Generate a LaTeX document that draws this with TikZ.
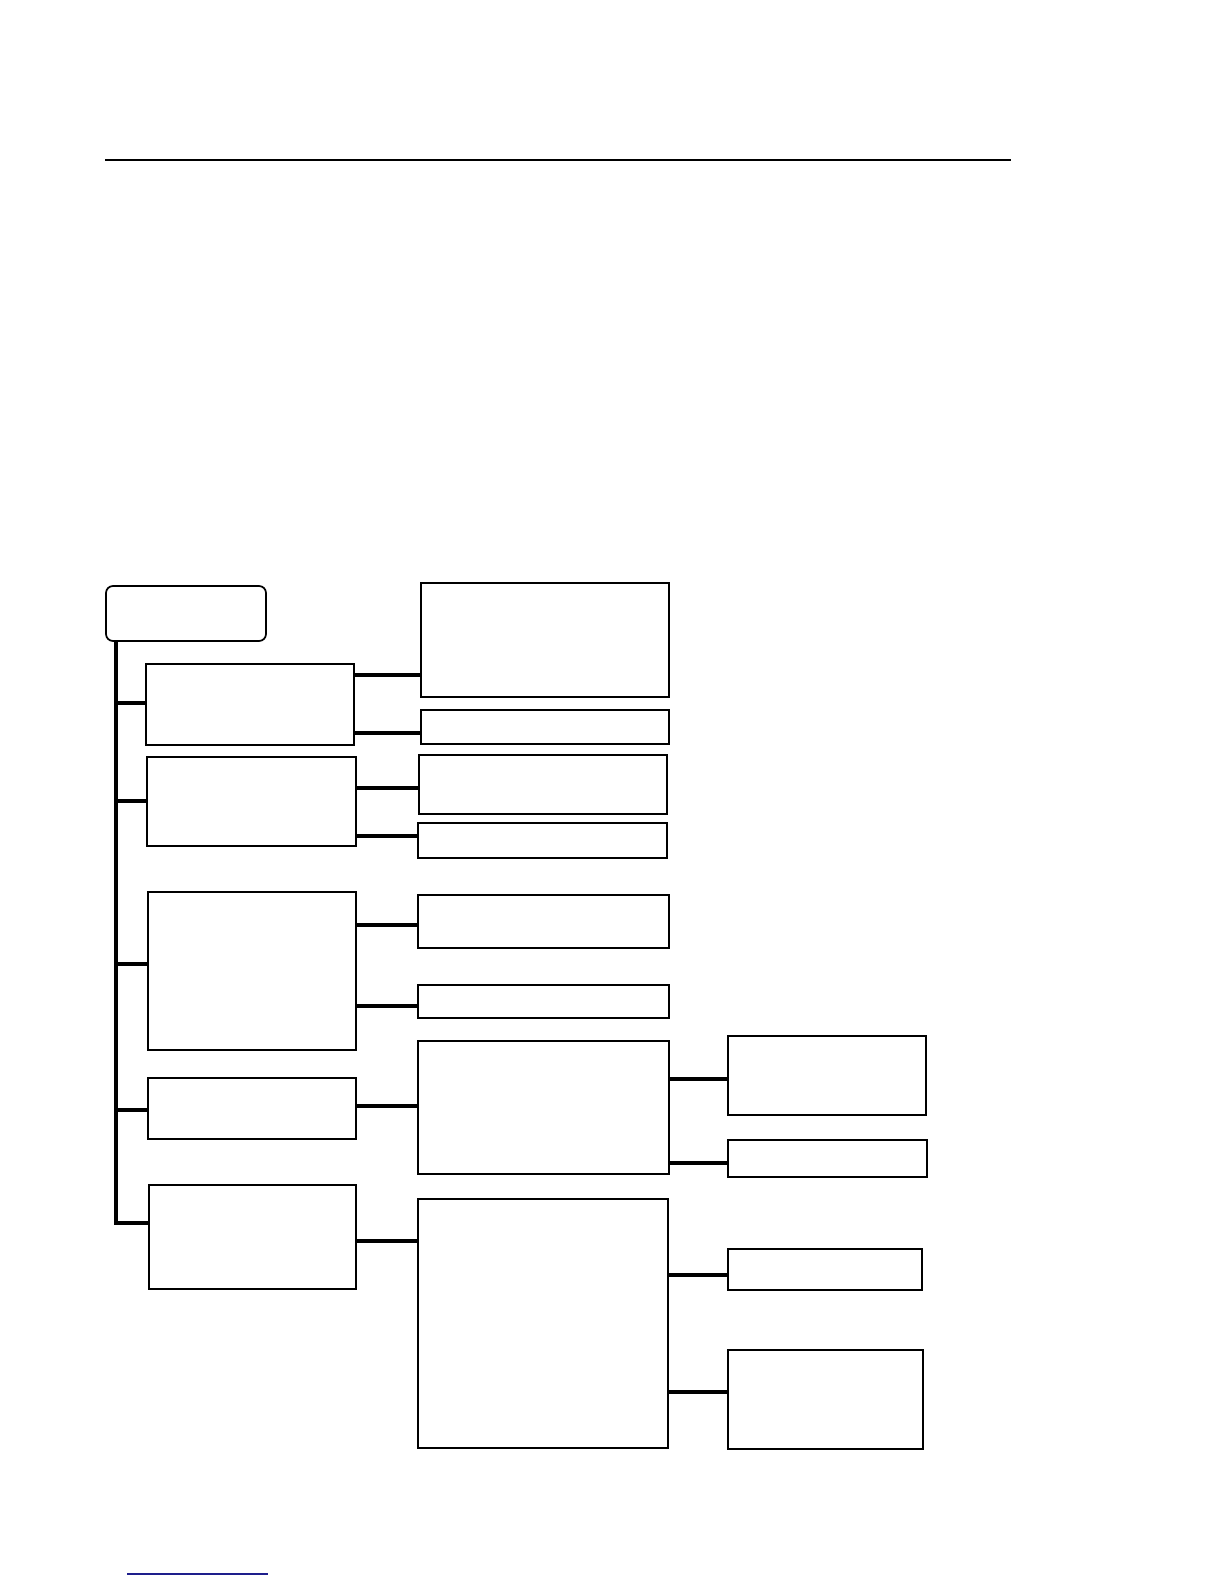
\documentclass[tikz,border=0pt]{standalone}
\usetikzlibrary{positioning}
\definecolor{linkblue}{RGB}{30,30,140}
\tikzset{
  box/.style={draw, line width=1.2pt, inner sep=0pt, outer sep=0pt, anchor=north west},
  rootbox/.style={box, rounded corners=7pt, line width=1.7pt},
  link/.style={line width=3.6pt},
  heavy/.style={line width=2.6pt},
}

\begin{document}
\begin{tikzpicture}[x=1pt, y=-1pt]
  \useasboundingbox (0,0) rectangle (1224,1584);
  % rules at top and bottom
  \coordinate (ruleL) at (105,160);
  \coordinate (ruleR) at (1011,160);
  \draw[line width=2.2pt] (ruleL) -- (ruleR);
  \coordinate (footL) at (127,1574);
  \coordinate (footR) at (268,1574);
  \draw[linkblue, line width=1.3pt] (footL) -- (footR);

  % root
  \node[rootbox, minimum width=160pt, minimum height=55pt] (root) at (106,586) {};

  % first level
  \node[box, minimum width=208pt, minimum height=81pt]  (A) at (146,664) {};
  \node[box, minimum width=209pt, minimum height=89pt]  (B) at (147,757) {};
  \node[box, minimum width=208pt, minimum height=158pt] (C) at (148,892) {};
  \node[box, minimum width=208pt, minimum height=61pt]  (D) at (148,1078) {};
  \node[box, minimum width=207pt, minimum height=104pt] (E) at (149,1185) {};

  % second level
  \node[box, minimum width=248pt, minimum height=114pt] (A1) at (421,583) {};
  \node[box, minimum width=248pt, minimum height=34pt]  (A2) at (421,710) {};
  \node[box, minimum width=248pt, minimum height=59pt]  (B1) at (419,755) {};
  \node[box, minimum width=249pt, minimum height=35pt]  (B2) at (418,823) {};
  \node[box, minimum width=251pt, minimum height=53pt]  (C1) at (418,895) {};
  \node[box, minimum width=251pt, minimum height=33pt]  (C2) at (418,985) {};
  \node[box, minimum width=251pt, minimum height=133pt] (D1) at (418,1041) {};
  \node[box, minimum width=250pt, minimum height=249pt] (E1) at (418,1199) {};

  % third level
  \node[box, minimum width=198pt, minimum height=79pt] (D1a) at (728,1036) {};
  \node[box, minimum width=199pt, minimum height=37pt] (D1b) at (728,1140) {};
  \node[box, minimum width=194pt, minimum height=41pt] (E1a) at (728,1249) {};
  \node[box, minimum width=195pt, minimum height=99pt] (E1b) at (728,1350) {};

  % heavier edges
  \draw[heavy] (A1.north west) -- (A1.north east);
  \draw[heavy] (B1.south west) -- (B1.south east);
  \draw[heavy] (D1.north west) -- (D1.north east);
  \draw[heavy] (D1a.north west) -- (D1a.south west);
  \draw[heavy] (D1a.north east) -- (D1a.south east);
  \draw[heavy] (D1b.north west) -- (D1b.north east);
  \draw[heavy] (E1b.south west) |- (E1b.north east);

  % trunk and branches
  \coordinate (trunk) at (116,641);
  \coordinate (trunkend) at (116,1223);
  \draw[link] (trunk) -- (trunkend) -- (E.west |- trunkend);
  \draw[link] (trunk |- 0,703)  -- (A.west |- 0,703);
  \draw[link] (trunk |- 0,801)  -- (B.west |- 0,801);
  \draw[link] (trunk |- 0,964)  -- (C.west |- 0,964);
  \draw[link] (trunk |- 0,1110) -- (D.west |- 0,1110);

  % connectors to second level
  \draw[link] (A.east |- 0,675)  -- (A1.west |- 0,675);
  \draw[link] (A.east |- 0,733)  -- (A2.west |- 0,733);
  \draw[link] (B.east |- 0,788)  -- (B1.west |- 0,788);
  \draw[link] (B.east |- 0,836)  -- (B2.west |- 0,836);
  \draw[link] (C.east |- 0,925)  -- (C1.west |- 0,925);
  \draw[link] (C.east |- 0,1006) -- (C2.west |- 0,1006);
  \draw[link] (D.east |- 0,1106) -- (D1.west |- 0,1106);
  \draw[link] (E.east |- 0,1241) -- (E1.west |- 0,1241);

  % connectors to third level
  \draw[link] (D1.east |- 0,1079) -- (D1a.west |- 0,1079);
  \draw[link] (D1.east |- 0,1163) -- (D1b.west |- 0,1163);
  \draw[link] (E1.east |- 0,1275) -- (E1a.west |- 0,1275);
  \draw[link] (E1.east |- 0,1392) -- (E1b.west |- 0,1392);
\end{tikzpicture}
\end{document}
